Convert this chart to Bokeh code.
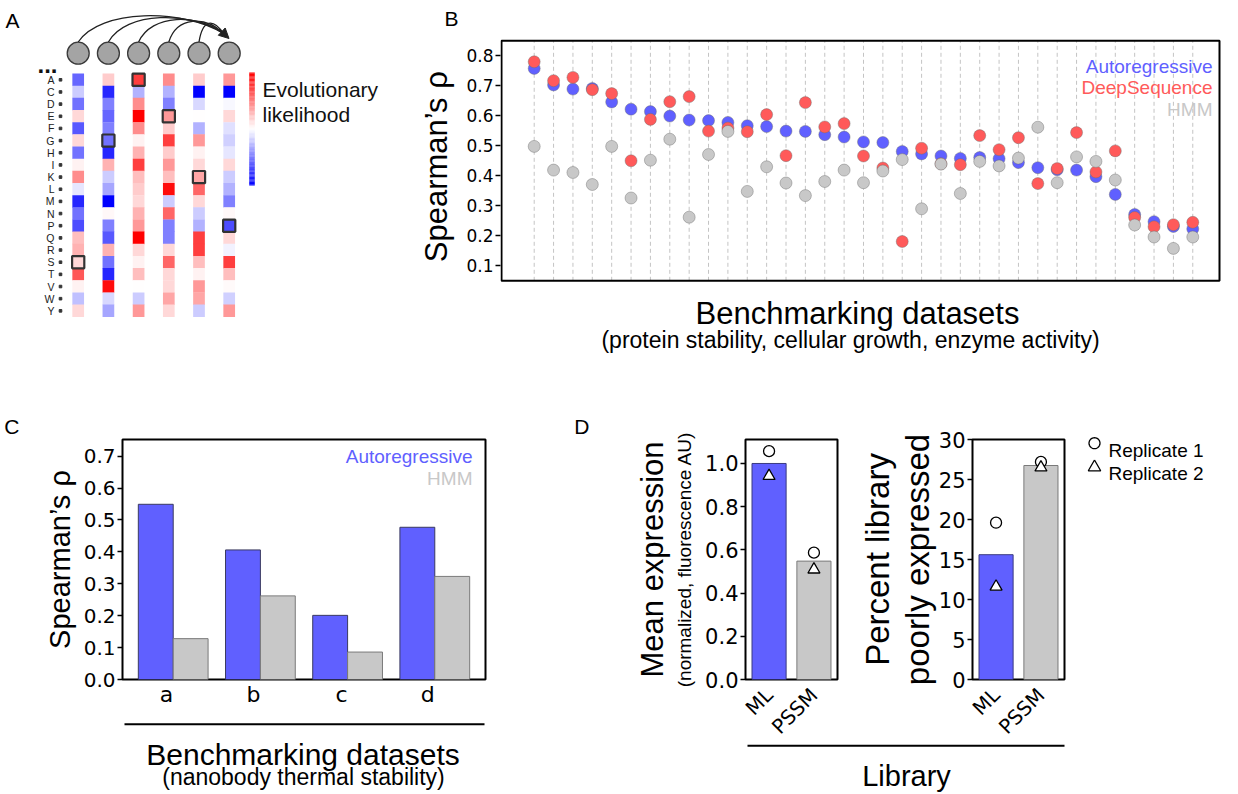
import math
import numpy as np
from bokeh.plotting import figure
from bokeh.models import (Range1d, FixedTicker, PrintfTickFormatter, Label, Arrow,
                          NormalHead, ColumnDataSource, LinearColorMapper, LinearAxis)
from bokeh.transform import dodge
from bokeh.layouts import row, column
from bokeh.core.properties import value
from bokeh.embed import file_html
from bokeh.resources import INLINE

# ---------------- data ----------------
residues = ["A", "C", "D", "E", "F", "G", "H", "I", "K", "L",
            "M", "N", "P", "Q", "R", "S", "T", "V", "W", "Y"]
pos1 = [-0.6, -0.2, -0.55, 0.15, -0.65, 0.15, -0.55, 0.05, 0.45, -0.1,
        -0.85, -0.55, -0.7, 0.25, 0.3, 0.15, 0.65, 0.05, -0.25, 0.15]
pos2 = [0.2, -0.85, -0.5, -0.6, -0.5, -0.55, -0.85, 0.3, -0.2, -0.35,
        -1.0, 0.03, -0.5, -0.65, 0.3, -0.55, -0.85, 0.95, -0.15, -0.35]
pos3 = [0.75, -0.3, 0.45, 1.0, 0.45, 0.05, 0.3, 0.75, 0.25, 0.2,
        0.15, 0.3, 0.4, 1.0, 0.15, 0.05, 0.25, 0.0, -0.2, 0.4]
pos4 = [0.45, -0.3, -0.5, 0.4, 0.2, 0.75, 0.2, 0.4, 0.25, 0.95,
        -0.2, 0.6, -0.5, -0.5, 0.15, 0.6, 0.15, 0.15, 0.35, 0.15]
pos5 = [0.2, -1.0, -0.15, 0.0, -0.3, 0.4, 0.05, 0.15, 0.35, 0.6,
        0.15, -0.2, -0.3, 0.75, 0.75, 0.25, 0.05, 0.4, 0.35, -0.2]
pos6 = [0.4, -1.0, -0.03, 0.15, -0.12, -0.18, -0.1, 0.15, -0.2, -0.3,
        -0.5, 0.03, -0.7, 0.15, -0.05, 0.75, 0.25, 0.02, -0.18, 0.4]
boxed = ["S", "G", "A", "E", "K", "P"]

bench_auto = [0.758, 0.703, 0.689, 0.691, 0.646, 0.622, 0.614, 0.599, 0.586, 0.584,
              0.578, 0.567, 0.564, 0.549, 0.548, 0.537, 0.529, 0.513, 0.511, 0.481,
              0.473, 0.466, 0.458, 0.461, 0.457, 0.444, 0.427, 0.420, 0.419, 0.397,
              0.338, 0.271, 0.247, 0.231, 0.223]
bench_deep = [0.780, 0.717, 0.728, 0.687, 0.674, 0.450, 0.588, 0.647, 0.664, 0.549,
              0.559, 0.547, 0.604, 0.467, 0.644, 0.563, 0.574, 0.466, 0.426, 0.181,
              0.492, 0.440, 0.437, 0.534, 0.487, 0.527, 0.374, 0.424, 0.544, 0.413,
              0.483, 0.261, 0.230, 0.237, 0.245]
bench_hmm = [0.498, 0.419, 0.411, 0.371, 0.498, 0.326, 0.452, 0.522, 0.262, 0.471,
             0.548, 0.348, 0.430, 0.376, 0.334, 0.381, 0.419, 0.377, 0.416, 0.454,
             0.290, 0.439, 0.341, 0.448, 0.433, 0.459, 0.562, 0.377, 0.463, 0.448,
             0.386, 0.236, 0.196, 0.158, 0.196]
bench_ylim = (0.05, 0.85)
bench_ticks = [0.1, 0.2, 0.3, 0.4, 0.5, 0.6, 0.7, 0.8]

nano_sets = ["a", "b", "c", "d"]
nano_auto = [0.549, 0.406, 0.201, 0.477]
nano_hmm = [0.128, 0.262, 0.086, 0.323]
nano_ticks = [0.0, 0.1, 0.2, 0.3, 0.4, 0.5, 0.6, 0.7]

libraries = ["ML", "PSSM"]
expr_mean = [1.0, 0.548]
expr_rep1 = [1.057, 0.587]
expr_rep2 = [0.942, 0.509]
expr_ticks = [0.0, 0.2, 0.4, 0.6, 0.8, 1.0]
poor_mean = [15.6, 26.75]
poor_rep1 = [19.6, 27.2]
poor_rep2 = [11.6, 26.5]
poor_ticks = [0, 5, 10, 15, 20, 25, 30]
replicates = ["Replicate 1", "Replicate 2"]

BLUE = "#6060ff"
RED = "#ff5a5a"
GRAY = "#c8c8c8"
SANS = "Liberation Sans"
TICKF = "DejaVu Sans"


def style_yaxis(ax, size):
    ax.major_label_text_font = TICKF
    ax.major_label_text_font_size = f"{size}px"
    ax.major_label_text_color = "black"
    ax.major_tick_out = 5
    ax.major_tick_in = 0
    ax.major_tick_line_width = 1.5
    ax.major_tick_line_color = "black"
    ax.minor_tick_line_color = None
    ax.axis_line_color = None
    ax.major_label_standoff = 2


def cat_xaxis(ax, names, size, standoff, orientation=0.0):
    ax.ticker = FixedTicker(ticks=list(range(len(names))))
    ax.major_label_overrides = {i: n for i, n in enumerate(names)}
    ax.major_label_orientation = orientation
    ax.major_label_text_font = TICKF
    ax.major_label_text_font_size = f"{size}px"
    ax.major_label_text_color = "black"
    ax.major_tick_line_color = None
    ax.minor_tick_line_color = None
    ax.major_tick_out = 0
    ax.major_tick_in = 0
    ax.minor_tick_out = 0
    ax.axis_line_color = None
    ax.major_label_standoff = standoff


def label_axis(ax, text, size, standoff):
    ax.axis_label = text
    ax.axis_label_text_font = SANS
    ax.axis_label_text_font_size = f"{size}px"
    ax.axis_label_text_font_style = "normal"
    ax.axis_label_text_color = "black"
    ax.axis_label_standoff = standoff


def bare_axis(**kw):
    return LinearAxis(ticker=FixedTicker(ticks=[]), major_tick_out=0, major_tick_in=0,
                      minor_tick_out=0, minor_tick_in=0, major_tick_line_color=None,
                      minor_tick_line_color=None, major_label_standoff=0,
                      major_label_text_font_size="0px", **kw)


def panel_title(p, text, offset, standoff):
    p.title.text = text
    p.title.align = "left"
    p.title.offset = offset
    p.title.standoff = standoff
    p.title.text_font = SANS
    p.title.text_font_size = "21px"
    p.title.text_font_style = "normal"
    p.title.text_color = "black"


def page_ranges(p, fl, fr, ft, fb):
    # extra ranges in page pixels for decorations drawn (unclipped) around the frame
    p.extra_x_ranges = {"px": Range1d(fl, fr)}
    p.extra_y_ranges = {"py": Range1d(fb, ft)}


def deco_text(p, xs, ys, texts, sizes, align="center", color="black"):
    p.text(x=xs, y=ys, text=texts, x_range_name="px", y_range_name="py", level="overlay",
           text_align=align, text_baseline="alphabetic", text_font=value(SANS),
           text_font_size=[f"{s}px" for s in sizes], text_color=color)


def deco_line(p, x0, x1, y):
    p.segment(x0=[x0], y0=[y], x1=[x1], y1=[y], x_range_name="px", y_range_name="py",
              line_color="black", line_width=2, level="overlay")


# ---------------- palette ----------------
bwr = []
for t in range(256):
    v = -1 + 2 * t / 255
    if v < 0:
        c = int(round(255 * (1 + v)))
        bwr.append("#%02x%02x%02x" % (c, c, 255))
    else:
        c = int(round(255 * (1 - v)))
        bwr.append("#%02x%02x%02x" % (255, c, c))
mapper = LinearColorMapper(palette=bwr, low=-1, high=1)

# ---------------- panel A (full-frame canvas, also holds B's left-side texts) ----------------
CW, RH = 30.2, 12.16
X0, Y0 = 77.7, 79.3


def ux(px):
    return (px - X0) / CW


def uy(py):
    return -(py - Y0) / RH


pA = figure(width=460, height=400, x_range=Range1d(ux(0), ux(460)),
            y_range=Range1d(uy(400), uy(0)), x_axis_location=None, y_axis_location=None,
            output_backend="svg", toolbar_location=None,
            min_border_left=0, min_border_right=0, min_border_top=0, min_border_bottom=0)
pA.outline_line_color = None
pA.grid.visible = False

columns_vals = [pos1, pos2, pos3, pos4, pos5, pos6]
hx, hy, hv = [], [], []
for ci, col in enumerate(columns_vals):
    for ri, v in enumerate(col):
        hx.append(ci)
        hy.append(-ri)
        hv.append(v)
srcA = ColumnDataSource(dict(x=hx, y=hy, v=hv))
pA.rect(x="x", y="y", width=11.7 / CW, height=1.03, source=srcA,
        fill_color={"field": "v", "transform": mapper}, line_color=None)
pA.rect(x=list(range(len(boxed))), y=[-residues.index(b) for b in boxed],
        width=12.2 / CW, height=1.0, fill_alpha=0, line_color="#333333", line_width=2.2)

ncol = len(columns_vals)
pA.scatter(x=list(range(ncol)), y=[uy(52.7)] * ncol, size=22, fill_color="#a4a4a4",
           line_color="#3a3a3a", line_width=1.3)

ex, ey = 223.0, 33.0
bx0, by0, bx1, by1, bc0x, bc0y, bc1x, bc1y = [], [], [], [], [], [], [], []
for i in range(ncol - 1):
    xs = X0 + CW * i
    L = ex - xs
    cy = 8.0 + 2.5 * i
    bx0.append(ux(xs)); by0.append(uy(41.5))
    bx1.append(ux(ex)); by1.append(uy(ey))
    bc0x.append(ux(xs + 0.15 * L)); bc0y.append(uy(cy))
    bc1x.append(ux(ex - 0.25 * L - 4)); bc1y.append(uy(cy))
pA.bezier(x0=bx0, y0=by0, x1=bx1, y1=by1, cx0=bc0x, cy0=bc0y, cx1=bc1x, cy1=bc1y,
          line_color="#222222", line_width=1.3)
pA.add_layout(Arrow(end=NormalHead(size=10, fill_color="#222222", line_color="#222222"),
                    x_start=ux(218.5), y_start=uy(28.5), x_end=ux(228.5), y_end=uy(38),
                    line_color="#222222", line_width=1.3))

nres = len(residues)
pA.text(x=[ux(54)] * nres, y=[-r for r in range(nres)], text=residues,
        text_align="right", text_baseline="middle", text_font=value(SANS),
        text_font_size="10.5px", text_color="#222222")
pA.scatter(x=[ux(60)] * nres, y=[-r for r in range(nres)], marker="square",
           size=2.6, color="#333333")
pA.text(x=[ux(37)], y=[uy(63.5)], text=["..."], text_font=value(SANS),
        text_font_size="24px", text_font_style="bold", text_color="#111111",
        text_baseline="alphabetic")

nbar = 90
edges = np.linspace(72, 185, nbar + 1)
cb_y = [uy((edges[k] + edges[k + 1]) / 2) for k in range(nbar)]
cb_v = np.linspace(1, -1, nbar)
cb_c = [bwr[int(round((v + 1) / 2 * 255))] for v in cb_v]
pA.rect(x=[ux(251.5)] * nbar, y=cb_y, width=5.6 / CW, height=(113 / nbar) / RH * 1.1,
        fill_color=cb_c, line_color=None)
pA.text(x=[ux(262), ux(262)], y=[uy(88.7), uy(113.7)], text=["Evolutionary", "likelihood"],
        text_font=value(SANS), text_font_size="21px", text_color="#111111",
        text_baseline="alphabetic")
pA.text(x=[ux(5), ux(444)], y=[uy(20.3), uy(18)], text=["A", "B"], text_font=value(SANS),
        text_font_size="21px", text_color="black", text_baseline="alphabetic")
pA.text(x=[ux(436)], y=[uy(166.2)], text=["Spearman\u2019s \u03c1"], angle=math.pi / 2,
        text_align="center", text_baseline="middle", text_font=value(SANS),
        text_font_size="31px", text_color="black")

# ---------------- panel B (full-height frame) ----------------
BX0, BXS, BY08, BYS = 533.7, 19.37, 55.3, 300.0


def bx(px):
    return (px - BX0) / BXS


def by(py):
    return 0.8 - (py - BY08) / BYS


idx = list(range(len(bench_auto)))
pB = figure(width=778, height=400, x_range=Range1d(bx(500), bx(1238)),
            y_range=Range1d(by(400), by(0)), output_backend="svg", toolbar_location=None,
            min_border_left=40, min_border_right=0, min_border_top=0, min_border_bottom=0)
pB.outline_line_color = None
pB.xaxis.visible = False
pB.grid.visible = False
pB.yaxis.ticker = FixedTicker(ticks=bench_ticks)
pB.yaxis.formatter = PrintfTickFormatter(format="%.1f")
style_yaxis(pB.yaxis[0], 17)
pB.segment(x0=idx, y0=[bench_ylim[0]] * len(idx), x1=idx, y1=[bench_ylim[1]] * len(idx),
           line_color="#c4c4c4", line_dash="4 3", line_width=1)
pB.quad(left=[bx(501)], right=[bx(1219)], bottom=[bench_ylim[0]], top=[bench_ylim[1]],
        fill_alpha=0, line_color="black", line_width=2)
for vals, colr in [(bench_auto, BLUE), (bench_deep, RED), (bench_hmm, GRAY)]:
    pB.scatter(idx, vals, size=12, fill_color=colr, line_color="#6f6f6f", line_alpha=0.55,
               line_width=0.8)
pB.text(x=[bx(857), bx(850)], y=[by(313.3), by(339.3)],
        text=["Benchmarking datasets", "(protein stability, cellular growth, enzyme activity)"],
        text_align="center", text_baseline="alphabetic", text_font=value(SANS),
        text_font_size=["31px", "23px"], text_color="black")
pB.text(x=[bx(1212)] * 3, y=[by(66), by(87), by(108.7)],
        text=["Autoregressive", "DeepSequence", "HMM"], text_align="right",
        text_baseline="alphabetic", text_font=value(SANS), text_font_size="19px",
        text_color=[BLUE, RED, GRAY])

# ---------------- panel C ----------------
srcC = ColumnDataSource(dict(x=list(range(len(nano_sets))), auto=nano_auto, hmm=nano_hmm))
pC = figure(width=570, height=402, x_range=Range1d(-0.5815, len(nano_sets) - 1 + 0.5815),
            y_range=Range1d(0, 0.752), output_backend="svg", toolbar_location=None,
            min_border_left=122, min_border_right=85, min_border_top=39, min_border_bottom=123)
pC.outline_line_color = "black"
pC.outline_line_width = 2
pC.grid.visible = False
pC.vbar(x=dodge("x", -0.2), top="auto", width=0.4, source=srcC,
        fill_color=BLUE, line_color="#3a3a60", line_width=1)
pC.vbar(x=dodge("x", 0.2), top="hmm", width=0.4, source=srcC,
        fill_color=GRAY, line_color="#7a7a7a", line_width=1)
pC.yaxis.ticker = FixedTicker(ticks=nano_ticks)
pC.yaxis.formatter = PrintfTickFormatter(format="%.1f")
style_yaxis(pC.yaxis[0], 20)
label_axis(pC.yaxis[0], "Spearman\u2019s \u03c1", 29, 5)
cat_xaxis(pC.xaxis[0], nano_sets, 22, 15)
panel_title(pC, "C", -118.3, 4)
page_ranges(pC, 122, 485, 439, 679)
deco_line(pC, 124, 484, 723.7)
deco_text(pC, [302.5, 303], [753.7, 776], ["Benchmarking datasets",
                                           "(nanobody thermal stability)"], [30, 23])
pC.add_layout(Label(x=350, y=213, x_units="screen", y_units="screen", text="Autoregressive",
                    text_font=SANS, text_font_size="19px", text_color=BLUE, text_align="right"))
pC.add_layout(Label(x=350, y=191, x_units="screen", y_units="screen", text="HMM",
                    text_font=SANS, text_font_size="19px", text_color=GRAY, text_align="right"))

# ---------------- panel D ----------------
srcD = ColumnDataSource(dict(x=list(range(len(libraries))), em=expr_mean, e1=expr_rep1,
                             e2=expr_rep2, pm=poor_mean, p1=poor_rep1, p2=poor_rep2,
                             col=[BLUE, GRAY], edge=["#3a3a80", "#7a7a7a"]))


def d_fig(width, left, right, ymax, ticks, fmt):
    p = figure(width=width, height=402, x_range=Range1d(-0.525, len(libraries) - 1 + 0.525),
               y_range=Range1d(0, ymax), output_backend="svg", toolbar_location=None,
               min_border_left=left, min_border_right=right, min_border_top=39,
               min_border_bottom=123)
    p.outline_line_color = "black"
    p.outline_line_width = 2
    p.grid.visible = False
    p.yaxis.ticker = FixedTicker(ticks=ticks)
    p.yaxis.formatter = PrintfTickFormatter(format=fmt)
    style_yaxis(p.yaxis[0], 21)
    cat_xaxis(p.xaxis[0], libraries, 20, 12, math.pi / 4)
    return p


pD1 = d_fig(282, 175, 15, 1.111, expr_ticks, "%.1f")
pD1.vbar(x="x", top="em", width=0.76, source=srcD, fill_color="col", line_color="edge",
         line_width=1)
pD1.scatter(x="x", y="e1", marker="circle", size=11, source=srcD, fill_color="white",
            line_color="black", line_width=1.3)
pD1.scatter(x="x", y="e2", marker="triangle", size=12, source=srcD, fill_color="white",
            line_color="black", line_width=1.3)
label_axis(pD1.yaxis[0], "(normalized, fluorescence AU)", 19, 7)
axMe = bare_axis(axis_line_color=None)
label_axis(axMe, "Mean expression", 31, 2)
pD1.add_layout(axMe, "left")
panel_title(pD1, "D", -171.3, 4)
page_ranges(pD1, 745, 837, 439, 679)
deco_line(pD1, 747, 852, 745.3)

pD2 = d_fig(386, 120, 174, 30, poor_ticks, "%d")
pD2.vbar(x="x", top="pm", width=0.76, source=srcD, fill_color="col", line_color="edge",
         line_width=1)
pD2.scatter(x="x", y="p1", marker="circle", size=11, source=srcD, fill_color="white",
            line_color="black", line_width=1.3)
pD2.scatter(x="x", y="p2", marker="triangle", size=12, source=srcD, fill_color="white",
            line_color="black", line_width=1.3)
label_axis(pD2.yaxis[0], "poorly expressed", 33, 0)
axPl = bare_axis(axis_line_color=None)
label_axis(axPl, "Percent library", 33, 0)
pD2.add_layout(axPl, "left")
page_ranges(pD2, 972, 1064, 439, 679)
deco_line(pD2, 851, 1064, 745.3)
deco_text(pD2, [906], [775], ["Library"], [29])

# legend keys (open circle / open triangle), outlined as poly-lines beside the frame;
# a NaN-separated anchor point inside the frame keeps them from being culled
kcx, kcy1, kcy2 = 1094.0, 442.7, 466.0
th = np.linspace(0, 2 * np.pi, 33)
circ_x = list(kcx + 5.5 * np.cos(th)) + [np.nan, 1000.0]
circ_y = list(kcy1 + 5.5 * np.sin(th)) + [np.nan, 600.0]
tri_x = [kcx, kcx + 6.2, kcx - 6.2, kcx, np.nan, 1000.0]
tri_y = [kcy2 - 6.5, kcy2 + 4.3, kcy2 + 4.3, kcy2 - 6.5, np.nan, 600.0]
pD2.multi_line(xs=[circ_x, tri_x], ys=[circ_y, tri_y], x_range_name="px", y_range_name="py",
               level="overlay", line_color="black", line_width=1.3)
deco_text(pD2, [1108, 1108], [449.5, 472.8], replicates, [19, 19], align="left")

layout = column(row(pA, pB), row(pC, pD1, pD2))
open("out.html", "w").write(file_html(layout, INLINE))
